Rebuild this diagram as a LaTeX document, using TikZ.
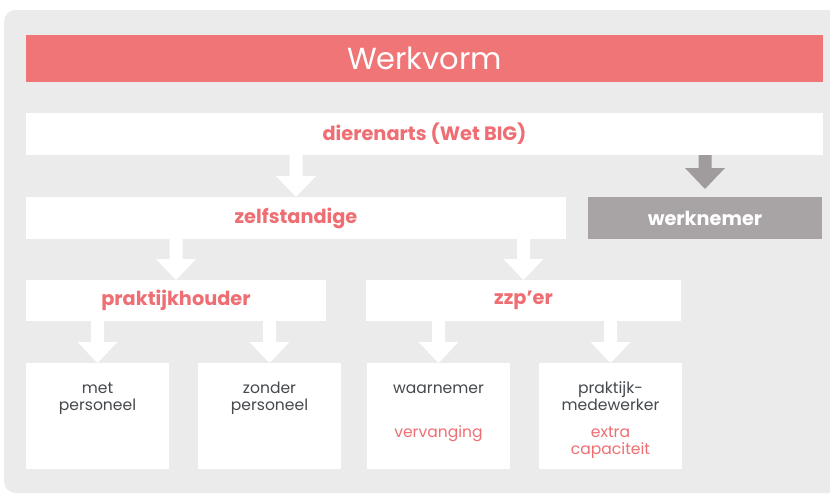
\documentclass[tikz,border=0pt]{standalone}
\usepackage{fontspec}
\setmainfont{Poppins}
\definecolor{kop}{HTML}{EF7577}
\definecolor{roze}{HTML}{EE6E73}
\definecolor{achter}{HTML}{EBEBEB}
\definecolor{grijs}{HTML}{A8A4A6}
\definecolor{grijspijl}{HTML}{A09C9E}
\definecolor{tekst}{HTML}{45494D}
\newcommand{\blokpijl}[4]{%
  \fill[#1] (#2.south -| #3.north) ++(-6.5,0) -- ++(13,0)
    -- ([shift={(6.5,-#4-21)}]#3.north) -- ([shift={(20,-#4-21)}]#3.north)
    -- ([shift={(0,-#4)}]#3.north) -- ([shift={(-20,-#4-21)}]#3.north)
    -- ([shift={(-6.5,-#4-21)}]#3.north) -- cycle;}

\begin{document}
\begin{tikzpicture}[x=0.03cm,y=-0.03cm,
    box/.style={fill=white,inner sep=0pt,outer sep=0pt,minimum height=1.26cm},
    kopje/.style={box,text=roze,font=\fontsize{16.5}{19}\selectfont\bfseries},
    blad/.style={fill=white,inner sep=0pt,outer sep=0pt,minimum width=4.29cm,minimum height=3.18cm},
    donker/.style={anchor=base,align=center,inner sep=0pt,text=tekst,font=\fontsize{13.3}{14.5}\selectfont},
    licht/.style={donker,text=roze}]
\useasboundingbox (0,0) rectangle (830,495);
\fill[achter,rounded corners=10] (4,10) rectangle (845,493);
\node[fill=kop,inner sep=0pt,minimum width=23.91cm,minimum height=1.41cm,text=white,
      font=\fontsize{26}{30}\selectfont] (werkvorm) at (424.5,58.5) {Werkvorm};
\node[kopje,minimum width=23.91cm] (dier) at (424.5,134) {dierenarts (Wet BIG)};
\node[kopje,minimum width=16.2cm] (zelf) at (296,218) {zelfstandige};
\node[kopje,fill=grijs,text=white,minimum width=7.02cm] (werk) at (705,218) {werknemer};
\node[kopje,minimum width=9cm,minimum height=1.23cm] (prak) at (176,300.5) {praktijkhouder};
\node[kopje,minimum width=9.45cm,minimum height=1.23cm] (zzp) at (523.5,300.5) {zzp’er};
\node[blad] (met) at (97.5,416) {};
\node[blad] (zonder) at (269.5,416) {};
\node[blad] (waar) at (438.5,416) {};
\node[blad] (mede) at (610.5,416) {};
\node[donker] at ([yshift=-1.41cm]met.north) {met\\personeel};
\node[donker] at ([yshift=-1.41cm]zonder.north) {zonder\\personeel};
\node[donker] at ([yshift=-0.9cm]waar.north) {waarnemer};
\node[donker] at ([yshift=-1.41cm]mede.north) {praktijk-\\medewerker};
\node[licht] at ([yshift=-2.235cm]waar.north) {vervanging};
\node[licht] at ([yshift=-2.73cm]mede.north) {extra\\capaciteit};
\blokpijl{white}{dier}{zelf}{0}
\blokpijl{grijspijl}{dier}{werk}{8}
\blokpijl{white}{zelf}{prak}{0}
\blokpijl{white}{zelf}{zzp}{0}
\blokpijl{white}{prak}{met}{0}
\blokpijl{white}{prak}{zonder}{0}
\blokpijl{white}{zzp}{waar}{0}
\blokpijl{white}{zzp}{mede}{0}
\end{tikzpicture}
\end{document}
